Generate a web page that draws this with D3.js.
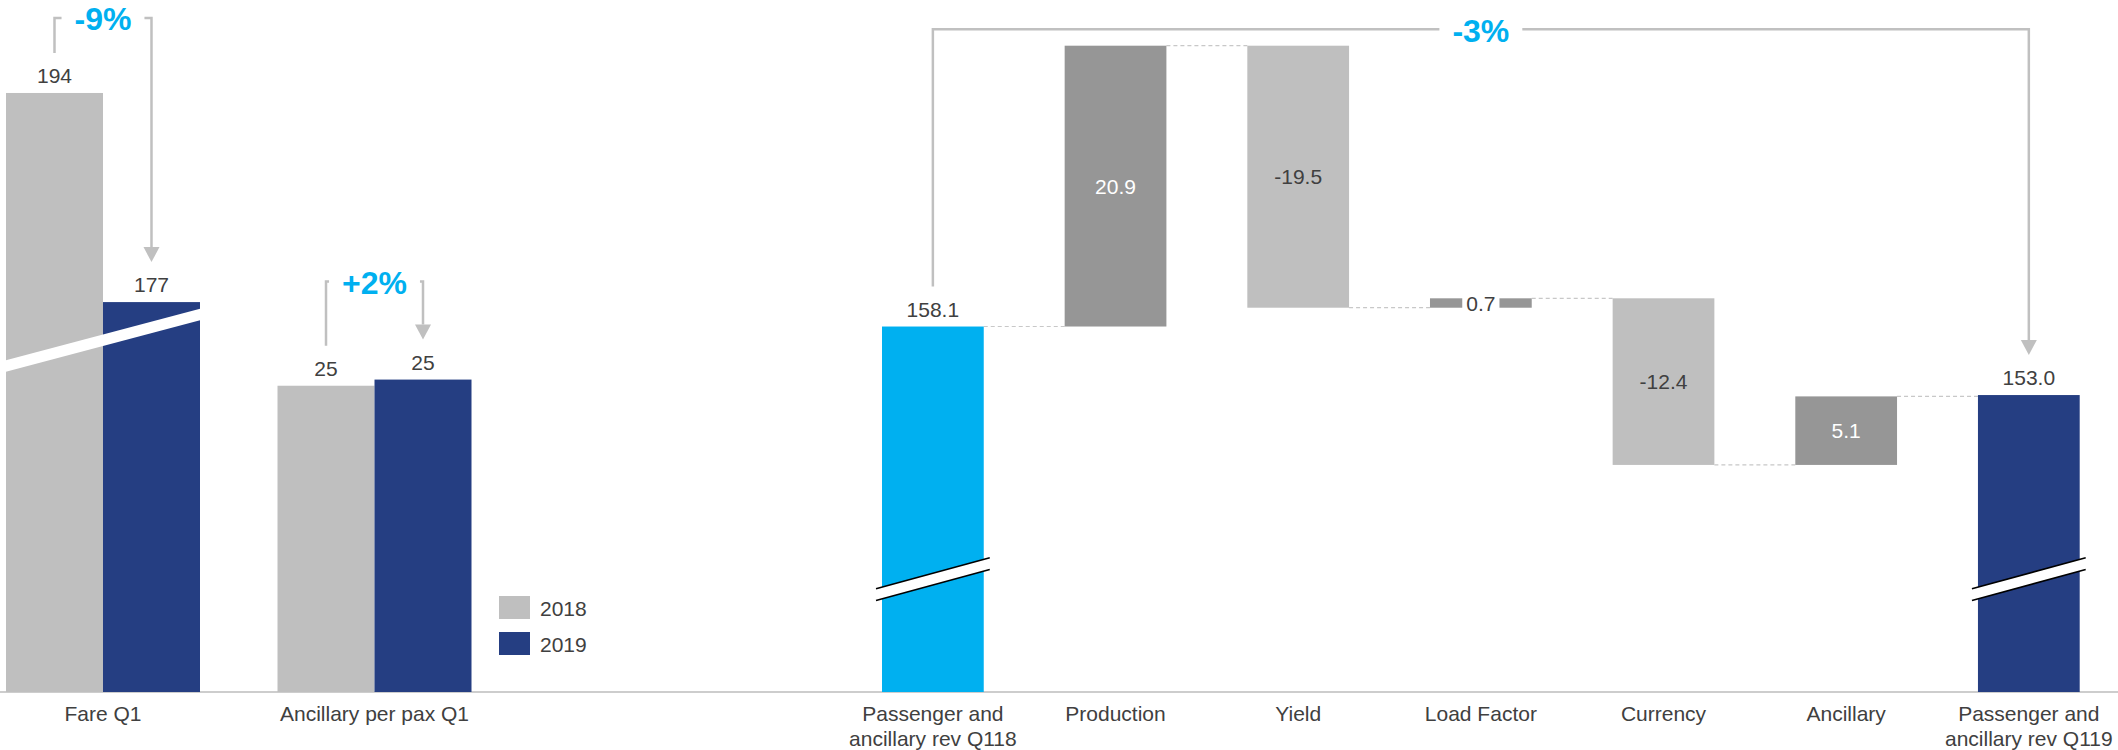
<!DOCTYPE html>
<html>
<head>
<meta charset="utf-8">
<script src="https://cdn.jsdelivr.net/npm/d3@7"></script>
<style>
  html, body { margin: 0; padding: 0; background: #ffffff; }
  svg { display: block; font-family: "Liberation Sans", Arial, Helvetica, sans-serif; }
</style>
</head>
<body>
<svg id="chart" width="2118" height="750"></svg>
<script>
// ---- Fare and ancillary per passenger, Q1 2018 vs Q1 2019 ----
const compCategories = ["Fare Q1", "Ancillary per pax Q1"];
const compYears = ["2018", "2019"];
const values2018 = [194, 24.9];
const values2019 = [177, 25.4];
const compChangeLabels = ["-9%", "+2%"];
// part of each group's value axis that is cut away by a break (0 = full axis)
const compAxisBreaks = [145.3, 0];

// ---- Passenger and ancillary revenue bridge ----
const bridgeCategories = [
  "Passenger and\nancillary rev Q118", "Production", "Yield", "Load Factor",
  "Currency", "Ancillary", "Passenger and\nancillary rev Q119"
];
const bridgeStart = 158.1;
const bridgeDeltas = [20.9, -19.5, 0.7, -12.4, 5.1];
const bridgeEnd = 153.0;
const bridgeChangeLabel = "-3%";
const bridgeAxisBreak = 130.9;

// ---- layout and style ----
const W = 2118, H = 750, baseY = 692;
const COL = {
  y2018: "#bfbfbf", y2019: "#253e82", start: "#00b0f0",
  up: "#969696", down: "#bfbfbf",
  text: "#404040", accent: "#00b0f0", guide: "#c0c0c0",
  axis: "#cdcdcd", connector: "#c8c8c8"
};
const FONT = 21;
const fmtInt = d3.formatLocale({decimal: ".", thousands: ",", grouping: [3], currency: ["", ""], minus: "-"}).format(".0f");
const fmt1 = d3.formatLocale({decimal: ".", thousands: ",", grouping: [3], currency: ["", ""], minus: "-"}).format(".1f");

const svg = d3.select("#chart");

// shared baseline
svg.append("line")
  .attr("x1", 0).attr("x2", W).attr("y1", baseY).attr("y2", baseY)
  .attr("stroke", COL.axis).attr("stroke-width", 2);

// bracket with a percentage label and an arrow pointing to the later value
function drawBracket(g, xL, xR, yLine, yLeftEnd, yTip, label) {
  const cx = (xL + xR) / 2;
  const t = g.append("text")
    .attr("x", cx).attr("y", yLine + 12.5)
    .attr("text-anchor", "middle")
    .attr("font-size", 32).attr("font-weight", "bold")
    .attr("fill", COL.accent)
    .text(label);
  const w = t.node().getComputedTextLength();
  const gap = 13;
  const tl = cx - w / 2 - gap, tr = cx + w / 2 + gap;
  const head = 15, half = 8;
  const left = d3.path();
  left.moveTo(xL, yLeftEnd);
  left.lineTo(xL, yLine);
  if (tl > xL) left.lineTo(tl, yLine);
  const right = d3.path();
  right.moveTo(Math.min(Math.max(tr, xL), xR), yLine);
  right.lineTo(xR, yLine);
  right.lineTo(xR, yTip - head);
  g.append("path").attr("d", left.toString())
    .attr("fill", "none").attr("stroke", COL.guide).attr("stroke-width", 2.5);
  g.append("path").attr("d", right.toString())
    .attr("fill", "none").attr("stroke", COL.guide).attr("stroke-width", 2.5);
  g.append("path")
    .attr("d", `M${xR - half},${yTip - head}L${xR + half},${yTip - head}L${xR},${yTip}Z`)
    .attr("fill", COL.guide);
}

// category labels drawn with an axis; "\n" starts a second line
function categoryAxis(scale) {
  const g = svg.append("g")
    .attr("transform", `translate(0,${baseY})`)
    .call(d3.axisBottom(scale).tickSize(0).tickPadding(14));
  g.select(".domain").remove();
  g.selectAll("text")
    .attr("font-size", FONT)
    .attr("font-family", "\"Liberation Sans\", Arial, Helvetica, sans-serif")
    .attr("fill", COL.text)
    .each(function (d) {
      const el = d3.select(this);
      const lines = String(d).split("\n");
      el.text(null).attr("dy", null);
      lines.forEach((ln, i) => {
        el.append("tspan").attr("x", 0)
          .attr("dy", i === 0 ? "0.71em" : "1.19em")
          .text(ln);
      });
    });
  return g;
}

// ================= left panel: grouped bars =================
const xComp = d3.scaleBand().domain(compCategories).range([6, 471.5]).paddingInner(0.2855);
const xYear = d3.scaleBand().domain(compYears).range([0, xComp.bandwidth()]);
const yComp = d3.scaleLinear().domain([0, 50]).range([baseY, baseY - 50 * 12.3]);
const yearColor = d3.scaleOrdinal().domain(compYears).range([COL.y2018, COL.y2019]);

const compRows = compCategories.map((cat, i) => ({
  cat, brk: compAxisBreaks[i], change: compChangeLabels[i],
  vals: [
    {year: compYears[0], v: values2018[i]},
    {year: compYears[1], v: values2019[i]}
  ]
}));

const left = svg.append("g");
compRows.forEach((row, ri) => {
  const g = left.append("g");
  const top = d => yComp(d.v - row.brk);
  g.selectAll("rect.bar").data(row.vals).join("rect")
    .attr("class", "bar")
    .attr("x", d => xComp(row.cat) + xYear(d.year))
    .attr("width", xYear.bandwidth())
    .attr("y", top)
    .attr("height", d => baseY - top(d))
    .attr("fill", d => yearColor(d.year));

  g.selectAll("text.val").data(row.vals).join("text")
    .attr("class", "val")
    .attr("x", d => xComp(row.cat) + xYear(d.year) + xYear.bandwidth() / 2)
    .attr("y", d => top(d) - 10)
    .attr("text-anchor", "middle")
    .attr("font-size", FONT).attr("fill", COL.text)
    .text(d => fmtInt(d.v));

  // axis break: slanted white band across the group
  if (row.brk > 0) {
    const x0 = xComp(row.cat) - 1, x1 = xComp(row.cat) + xComp.bandwidth() + 1;
    const cx = (x0 + x1) / 2, yc = yComp(28.6), slope = -0.265, th = 11.5;
    const yAt = x => yc + slope * (x - cx);
    g.append("path")
      .attr("d", `M${x0},${yAt(x0) - th / 2}L${x1},${yAt(x1) - th / 2}L${x1},${yAt(x1) + th / 2}L${x0},${yAt(x0) + th / 2}Z`)
      .attr("fill", "#ffffff");
  }

  const xa = xComp(row.cat) + xYear(compYears[0]) + xYear.bandwidth() / 2;
  const xb = xComp(row.cat) + xYear(compYears[1]) + xYear.bandwidth() / 2;
  const ta = top(row.vals[0]), tb = top(row.vals[1]);
  const lift = [75, 98][ri];
  drawBracket(g, xa, xb, Math.min(ta, tb) - lift, ta - 40, tb - 40, row.change);
});

// legend
const legend = svg.append("g").attr("transform", "translate(499,596)");
compYears.forEach((yr, i) => {
  legend.append("rect").attr("x", 0).attr("y", i * 36).attr("width", 31).attr("height", 23)
    .attr("fill", yearColor(yr));
  legend.append("text").attr("x", 41).attr("y", i * 36 + 20)
    .attr("font-size", FONT).attr("fill", COL.text).text(yr);
});

categoryAxis(xComp);

// ================= right panel: revenue bridge =================
const steps = [];
let run = bridgeStart;
steps.push({cat: bridgeCategories[0], a: bridgeAxisBreak, b: bridgeStart, kind: "start", value: bridgeStart, level: bridgeStart});
bridgeDeltas.forEach((d, i) => {
  steps.push({cat: bridgeCategories[i + 1], a: run, b: run + d, kind: d >= 0 ? "up" : "down", value: d, level: run + d});
  run += d;
});
steps.push({cat: bridgeCategories[bridgeCategories.length - 1], a: bridgeAxisBreak, b: bridgeEnd, kind: "end", value: bridgeEnd, level: bridgeEnd});

const maxLevel = d3.max(steps, s => Math.max(s.a, s.b));
const xBridge = d3.scaleBand().domain(bridgeCategories).range([882, 2079.7]).paddingInner(0.443);
const yBridge = d3.scaleLinear().domain([bridgeAxisBreak, maxLevel]).range([baseY, 45.7]);
const bw = xBridge.bandwidth();
const kindColor = {start: COL.start, end: COL.y2019, up: COL.up, down: COL.down};

const right = svg.append("g");

// dashed connectors between consecutive bars
steps.slice(0, -1).forEach((s, i) => {
  const nxt = steps[i + 1];
  right.append("line")
    .attr("x1", xBridge(s.cat) + bw).attr("x2", xBridge(nxt.cat))
    .attr("y1", yBridge(s.level)).attr("y2", yBridge(s.level))
    .attr("stroke", COL.connector).attr("stroke-width", 1.2)
    .attr("stroke-dasharray", "4,3");
});

right.selectAll("rect.step").data(steps).join("rect")
  .attr("class", "step")
  .attr("x", d => xBridge(d.cat))
  .attr("width", bw)
  .attr("y", d => yBridge(Math.max(d.a, d.b)))
  .attr("height", d => Math.abs(yBridge(d.a) - yBridge(d.b)))
  .attr("fill", d => kindColor[d.kind]);

// axis breaks on the two total bars
steps.filter(s => s.kind === "start" || s.kind === "end").forEach(s => {
  const x0 = xBridge(s.cat) - 6, x1 = xBridge(s.cat) + bw + 6;
  const cx = xBridge(s.cat) + bw / 2, yc = yBridge(139.3), slope = -0.272, th = 11.7;
  const yAt = x => yc + slope * (x - cx);
  right.append("path")
    .attr("d", `M${x0},${yAt(x0) - th / 2}L${x1},${yAt(x1) - th / 2}L${x1},${yAt(x1) + th / 2}L${x0},${yAt(x0) + th / 2}Z`)
    .attr("fill", "#ffffff");
  [-th / 2, th / 2].forEach(off => {
    right.append("line")
      .attr("x1", x0).attr("y1", yAt(x0) + off)
      .attr("x2", x1).attr("y2", yAt(x1) + off)
      .attr("stroke", "#000000").attr("stroke-width", 1.6);
  });
});

// value labels
steps.forEach(s => {
  const cx = xBridge(s.cat) + bw / 2;
  const yTop = yBridge(Math.max(s.a, s.b)), yBot = yBridge(Math.min(s.a, s.b));
  if (s.kind === "start" || s.kind === "end") {
    right.append("text").attr("x", cx).attr("y", yTop - 10)
      .attr("text-anchor", "middle").attr("font-size", FONT).attr("fill", COL.text)
      .text(fmt1(s.value));
  } else {
    const cy = (yTop + yBot) / 2;
    const small = (yBot - yTop) < 24;
    const t = right.append("text").attr("x", cx).attr("y", cy + 7.5)
      .attr("text-anchor", "middle").attr("font-size", FONT)
      .attr("fill", small || s.kind === "down" ? COL.text : "#ffffff")
      .text(fmt1(s.value));
    if (small) {
      const w = t.node().getComputedTextLength();
      right.insert("rect", function () { return t.node(); })
        .attr("x", cx - w / 2 - 4).attr("y", cy - 11)
        .attr("width", w + 8).attr("height", 22)
        .attr("fill", "#ffffff");
    }
  }
});

// overall change bracket
{
  const s0 = steps[0], s1 = steps[steps.length - 1];
  const xa = xBridge(s0.cat) + bw / 2, xb = xBridge(s1.cat) + bw / 2;
  drawBracket(right, xa, xb, yBridge(maxLevel) - 16.5,
    yBridge(s0.b) - 40, yBridge(s1.b) - 40, bridgeChangeLabel);
}

categoryAxis(xBridge);
</script>
</body>
</html>
